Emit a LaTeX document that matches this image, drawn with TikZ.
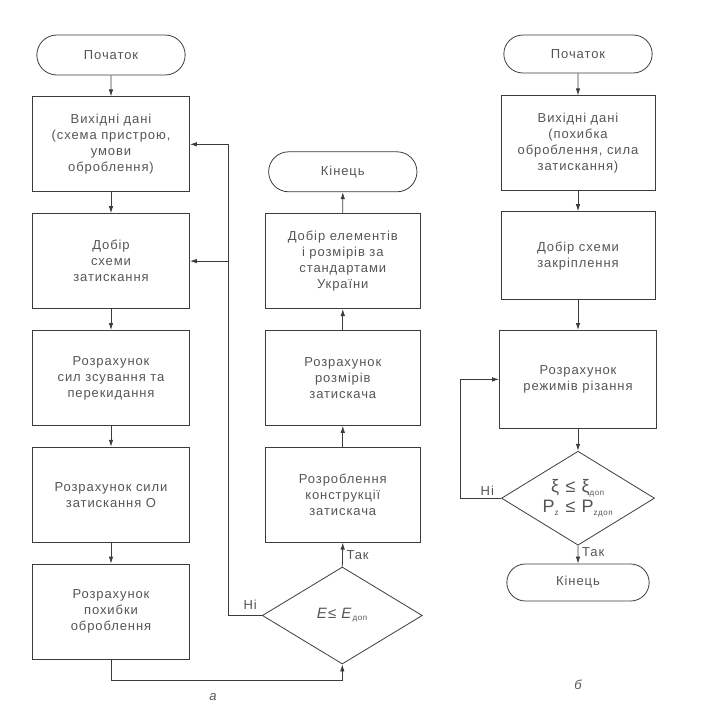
\documentclass[tikz,border=0pt]{standalone}
\usepackage{fontspec}
\setmainfont{Liberation Sans}[LetterSpace=7]
\usetikzlibrary{positioning,arrows.meta,calc,shapes.geometric,shapes.misc}
\definecolor{ink}{RGB}{60,60,60}
\definecolor{txt}{RGB}{85,85,85}
\newcommand{\fnt}{\fontsize{13}{16}\selectfont}
\tikzset{
  term/.style ={draw=ink, rounded rectangle, line width=0.8pt, text=txt, font=\fnt,
                minimum width=155pt, minimum height=40pt},
  blk/.style  ={draw=ink, line width=0.8pt, align=center, text=txt, font=\fnt,
                minimum width=157pt, minimum height=95pt},
  dec/.style  ={draw=ink, diamond, line width=0.8pt, align=center, text=txt, font=\fnt,
                inner sep=0pt, aspect=1.6, minimum width=160pt, minimum height=97pt},
  ar/.style   ={-{Latex[length=7pt,width=4.5pt]}, draw=ink, line width=0.8pt},
  lbl/.style  ={text=txt, font=\fnt, inner sep=1pt},
}

\begin{document}
\begin{tikzpicture}[x=1pt,y=-1pt,node distance=21pt and 75pt]
\useasboundingbox (0,0) rectangle (722,708);

% a: left column
\node[term] (start-a) at (111,55) {Початок};
\node[blk,below=of start-a] (in-a) {Вихідні дані\\(схема пристрою,\\умови\\оброблення)};
\node[blk,below=of in-a] (sch-a) {Добір\\схеми\\затискання};
\node[blk,below=of sch-a] (frc-a) {Розрахунок\\сил зсування та\\перекидання};
\node[blk,below=of frc-a] (clp-a) {Розрахунок сили\\затискання О};
\node[blk,below=of clp-a] (err-a) {Розрахунок\\похибки\\оброблення};

% a: right column
\node[blk,right=of sch-a,minimum width=155pt] (std-a) {Добір елементів\\і розмірів за\\стандартами\\України};
\node[blk,right=of frc-a,minimum width=155pt] (siz-a) {Розрахунок\\розмірів\\затискача};
\node[blk,right=of clp-a,minimum width=155pt] (dev-a) {Розроблення\\конструкції\\затискача};
\node[term,above=21pt of std-a] (end-a) {Кінець};
\node[dec,right=72pt of err-a,yshift=-4pt,font=\fontsize{15}{18}\selectfont] (chk-a)
  {\textit{E}≤ \textit{E}\textsubscript{\fontsize{8}{8}\selectfont доп}};
\coordinate (fb) at ($(sch-a.east)+(38,0)$);

% b
\node[term,minimum height=38pt] (start-b) at (578,54) {Початок};
\node[blk,below=22pt of start-b,minimum width=154pt] (in-b) {Вихідні дані\\(похибка\\оброблення, сила\\затискання)};
\node[blk,below=20pt of in-b,minimum width=154pt,minimum height=88pt] (sch-b) {Добір схеми\\закріплення};
\node[blk,below=30pt of sch-b,minimum width=157pt,minimum height=98pt] (cut-b) {Розрахунок\\режимів різання};
\node[dec,below=22pt of cut-b,minimum width=153pt,minimum height=94pt,font=\fontsize{18}{20}\selectfont] (chk-b)
  {ξ ≤ ξ\textsubscript{\fontsize{8}{8}\selectfont доп}\\P\textsubscript{\fontsize{8}{8}\selectfont z} ≤ P\textsubscript{\fontsize{8}{8}\selectfont zдоп}};
\node[term,below=18pt of chk-b,minimum width=149pt,minimum height=37pt] (end-b) {Кінець};

\draw[ar] (start-a) -- (in-a);
\draw[ar] (in-a) -- (sch-a);
\draw[ar] (sch-a) -- (frc-a);
\draw[ar] (frc-a) -- (clp-a);
\draw[ar] (clp-a) -- (err-a);
\draw[ar] (err-a.south) -- ++(0,21) -| (chk-a.south);
\draw[ar] (chk-a.west) -| (fb |- in-a.east) -- (in-a.east);
\draw[ar] (fb) -- (sch-a.east);
\draw[ar] (chk-a.north) -- (dev-a.south);
\draw[ar] (dev-a) -- (siz-a);
\draw[ar] (siz-a) -- (std-a);
\draw[ar] (std-a) -- (end-a);
\node[lbl,above left=5pt and 4pt of chk-a.west] (no-a) {Ні};
\node[lbl,right=3pt of chk-a.north,yshift=12pt] (yes-a) {Так};

\draw[ar] (start-b) -- (in-b);
\draw[ar] (in-b) -- (sch-b);
\draw[ar] (sch-b) -- (cut-b);
\draw[ar] (cut-b) -- (chk-b);
\draw[ar] (chk-b) -- (end-b);
\draw[ar] (chk-b.west) -- ++(-41,0) |- (cut-b.west);
\node[lbl,above left=2pt and 6pt of chk-b.west] (no-b) {Ні};
\node[lbl,right=3pt of chk-b.south,yshift=-6pt] (yes-b) {Так};

\node[lbl,font=\fnt\itshape] (cap-a) at (213,697) {а};
\node[lbl,font=\fnt\itshape] (cap-b) at (578,685) {б};
\end{tikzpicture}
\end{document}
